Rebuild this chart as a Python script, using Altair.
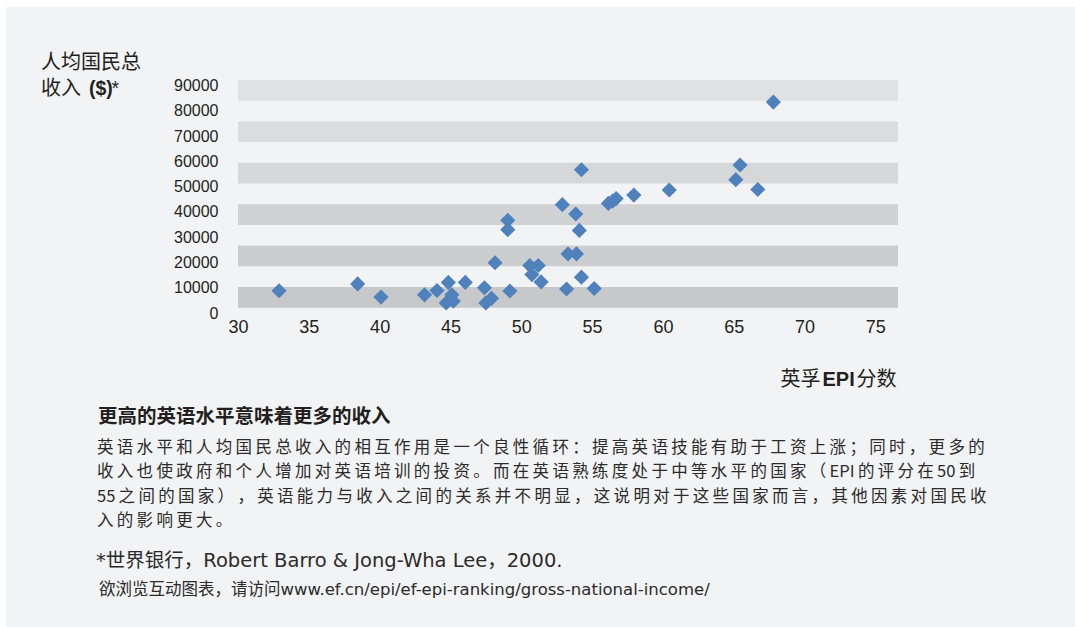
import altair as alt
import pandas as pd

# EF EPI score vs. GNI per capita (US$)
epi_score = [32.9, 38.45, 40.1, 43.17, 44.05, 44.85, 44.7, 45.1, 45.2, 46.05,
             47.4, 47.5, 47.9, 48.15, 49.05, 49.05, 49.2, 50.6, 51.2, 50.75,
             51.4, 52.9, 53.3, 53.9, 53.2, 53.85, 54.1, 54.25, 54.25, 55.15,
             56.15, 56.45, 56.7, 57.95, 60.45, 65.15, 65.45, 66.7, 67.8]
gni_per_capita = [8800, 11500, 6300, 7200, 8900, 12100, 4000, 7200, 4700, 12100,
                  10000, 4000, 5800, 19900, 36700, 33000, 8700, 18800, 18800, 15200,
                  12300, 42900, 23400, 23400, 9500, 39200, 32700, 56700, 14200, 9700,
                  43400, 44300, 45300, 46700, 48700, 52800, 58600, 48900, 83500]

x_ticks = [30, 35, 40, 45, 50, 55, 60, 65, 70, 75]
y_ticks = [0, 10000, 20000, 30000, 40000, 50000, 60000, 70000, 80000, 90000]

y_title_1 = "人均国民总"
y_title_2 = ["收入", "($)", "*"]
x_title = ["英孚", "EPI", "分数"]
heading = "更高的英语水平意味着更多的收入"
paragraph = [
    "英语水平和人均国民总收入的相互作用是一个良性循环：提高英语技能有助于工资上涨；同时，更多的",
    "收入也使政府和个人增加对英语培训的投资。而在英语熟练度处于中等水平的国家（EPI的评分在50到",
    "55之间的国家），英语能力与收入之间的关系并不明显，这说明对于这些国家而言，其他因素对国民收",
    "入的影响更大。",
]
source_note = "*世界银行，Robert Barro & Jong-Wha Lee，2000."
link_note = "欲浏览互动图表，请访问www.ef.cn/epi/ef-epi-ranking/gross-national-income/"

X_DOMAIN = [30, 76.6]
Y_DOMAIN = [0, 92250]
CJK = "Noto Sans CJK SC"
LATIN = "Liberation Sans"
INK = "#231f20"

x_scale = alt.Scale(domain=X_DOMAIN, nice=False, zero=False)
y_scale = alt.Scale(domain=Y_DOMAIN, nice=False, zero=False)
x_axis = alt.Axis(values=x_ticks, title=None, domain=False, ticks=False, grid=False,
                  labelFont=LATIN, labelFontSize=18, labelColor=INK, labelPadding=5,
                  labelFlush=False, labelOverlap=False, zindex=1)
y_axis = alt.Axis(values=y_ticks, format="d", title=None, domain=False, ticks=False,
                  grid=False, labelFont=LATIN, labelFontSize=16, labelColor=INK,
                  labelPadding=20, labelOverlap=False, zindex=1)

# eleven equal horizontal slots above the baseline, every other one shaded
band_lo, band_hi = 2100, Y_DOMAIN[1]
slot = (band_hi - band_lo) / 11
band_colors = ["#c7c8ca", "#cccdcf", "#d1d2d4", "#d6d7d9", "#dbdcde", "#e0e1e3"]
bands = pd.DataFrame({
    "y0": [band_lo + 2 * i * slot for i in range(6)],
    "y1": [band_lo + (2 * i + 1) * slot for i in range(6)],
    "x0": [X_DOMAIN[0]] * 6,
    "x1": [X_DOMAIN[1]] * 6,
    "shade": band_colors,
})

panel = alt.Chart(pd.DataFrame({"k": [0]})).mark_rect(color="#f2f3f5").encode(
    x=alt.value(-232), x2=alt.value(837), y=alt.value(-73), y2=alt.value(547)
)

band_layer = alt.Chart(bands).mark_rect().encode(
    x=alt.X("x0:Q", scale=x_scale, axis=x_axis),
    x2="x1:Q",
    y=alt.Y("y0:Q", scale=y_scale, axis=y_axis),
    y2="y1:Q",
    color=alt.Color("shade:N", scale=None),
)

points = pd.DataFrame({"epi": epi_score, "gni": gni_per_capita})
point_layer = alt.Chart(points).mark_point(
    shape="diamond", filled=True, size=230, color="#4f81bd", opacity=1
).encode(
    x=alt.X("epi:Q", scale=x_scale, axis=x_axis),
    y=alt.Y("gni:Q", scale=y_scale, axis=y_axis),
)


def text(value, px, py, size, weight="normal", font=CJK, align="left", color=INK):
    return alt.Chart(pd.DataFrame({"t": [value]})).mark_text(
        align=align, baseline="middle", fontSize=size, fontWeight=weight,
        font=font, color=color
    ).encode(x=alt.value(px), y=alt.value(py), text="t:N")


def spaced(line):
    # loose CJK tracking: a thin space after each character, except inside Latin runs
    out = line[0]
    for prev, ch in zip(line, line[1:]):
        if not (prev.isascii() and ch.isascii()):
            out += "\u2009"
        out += ch
    return out


texts = [
    text(y_title_1, -197, -17, 20),
    text(y_title_2[0], -197, 9, 20),
    text(y_title_2[1], -149, 9, 19.5, weight="bold", font=LATIN),
    text(y_title_2[2], -126.5, 9, 19.5, font=LATIN),
    text(x_title[0], 542.5, 300, 20),
    text(x_title[1], 584.5, 300, 20, weight="bold", font=LATIN),
    text(x_title[2], 618.5, 300, 20),
    text(heading, -140, 336.5, 19.5, weight="bold"),
]
for i, line in enumerate(paragraph):
    texts.append(text(spaced(line), -141, 368.3 + 24.15 * i, 16.5, color="#2b2b2b"))
texts.append(text(source_note, -142, 481, 19.5, font=f"DejaVu Sans, {CJK}", color="#2b2b2b"))
texts.append(text(link_note, -139, 510, 16.5, font=f"DejaVu Sans, {CJK}", color="#2b2b2b"))

chart = alt.layer(panel, band_layer, point_layer, *texts).properties(
    width=660,
    height=233,
    autosize=alt.AutoSizeParams(type="none"),
    padding={"left": 238, "top": 80, "right": 177, "bottom": 314},
    background="#ffffff",
).configure_view(stroke=None)

chart.save("out.html", embed_options={"renderer": "svg", "actions": False})
